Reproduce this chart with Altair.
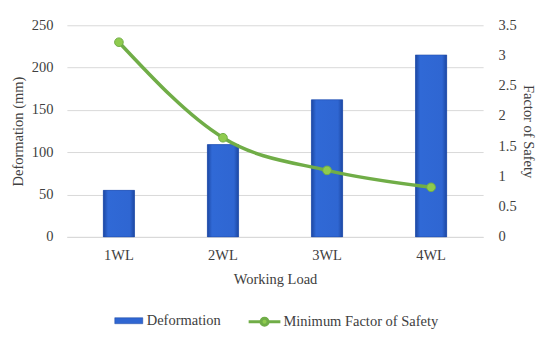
import altair as alt
import pandas as pd

categories = ["1WL", "2WL", "3WL", "4WL"]
deformation = [55, 109, 162, 215]
factor_of_safety = [3.22, 1.64, 1.10, 0.82]

df = pd.DataFrame({"load": categories, "def": deformation, "fos": factor_of_safety})

FONT = "Liberation Serif"
FS = 14.5
grad = alt.Gradient(
    gradient="linear", x1=0, x2=1, y1=0, y2=0,
    stops=[alt.GradientStop(color="#1c47a2", offset=0),
           alt.GradientStop(color="#3069d6", offset=0.15),
           alt.GradientStop(color="#2f66d2", offset=0.85),
           alt.GradientStop(color="#1c47a2", offset=1)])

x = alt.X("load:N", sort=categories, title="Working Load",
          scale=alt.Scale(paddingInner=0.7, paddingOuter=0.35),
          axis=alt.Axis(labelAngle=0, ticks=False, domainColor="#d9d9d9",
                        labelPadding=12, titlePadding=10))

y_left = alt.Y("def:Q", title="Deformation (mm)",
               scale=alt.Scale(domain=[0, 250]),
               axis=alt.Axis(values=[0, 50, 100, 150, 200, 250], ticks=False, domain=False,
                             labelPadding=14, titlePadding=6, gridColor="#d9d9d9"))

bar_legend = alt.Chart(df).mark_bar().encode(
    x=x, y=y_left,
    fill=alt.Fill("k:N", scale=alt.Scale(domain=["Deformation"], range=["#2f66d2"]),
                  legend=alt.Legend(title=None, orient="none", legendX=52, legendY=286,
                                    symbolType="M-1.5,-0.32L1.5,-0.32L1.5,0.32L-1.5,0.32Z",
                                    symbolSize=350, symbolStrokeColor="#1c47a2",
                                    symbolStrokeWidth=0.5, labelOffset=8))
).transform_calculate(k="'Deformation'")

bars = alt.Chart(df).mark_bar(color=grad, stroke="#1c47a2", strokeWidth=0.5).encode(
    x=x, y=y_left)

bar_layer = alt.layer(bar_legend, bars)

y_right = alt.Y("fos:Q", title="Factor of Safety",
                scale=alt.Scale(domain=[0, 3.5]),
                axis=alt.Axis(orient="right", values=[0, 0.5, 1, 1.5, 2, 2.5, 3, 3.5],
                              labelExpr="'' + datum.value", ticks=False, domain=False,
                              grid=False, labelPadding=15, titlePadding=4))

line = alt.Chart(df).mark_line(
    interpolate="monotone", strokeWidth=3.5,
    point=alt.OverlayMarkDef(filled=True, fill="#8fcb4e", stroke="#5f9e2e", strokeWidth=1, size=75)
).encode(
    x=x, y=y_right,
    stroke=alt.Stroke("k:N", scale=alt.Scale(domain=["Minimum Factor of Safety"], range=["#70ad47"]),
                      legend=alt.Legend(title=None, orient="none", legendX=187, legendY=286,
                                        symbolType="M-1.7,0L-0.38,0M0.38,0L1.7,0M-0.38,0A0.38,0.38,0,1,0,0.38,0A0.38,0.38,0,1,0,-0.38,0",
                                        symbolSize=350, symbolStrokeWidth=3,
                                        symbolFillColor="#8fcb4e", labelOffset=8))
).transform_calculate(k="'Minimum Factor of Safety'")

chart = alt.layer(bar_layer, line).resolve_scale(
    y="independent", fill="independent", stroke="independent"
).properties(
    width=417, height=212,
    padding={"left": 2, "top": 9, "right": 6, "bottom": 2}
).configure_view(stroke=None).configure_axis(
    labelFont=FONT, titleFont=FONT, labelFontSize=FS, titleFontSize=FS,
    labelColor="#404040", titleColor="#404040", titleFontWeight="normal"
).configure_legend(labelFont=FONT, labelFontSize=FS, labelColor="#404040")

chart.save("out.html", embed_options={"renderer": "svg", "actions": False})
